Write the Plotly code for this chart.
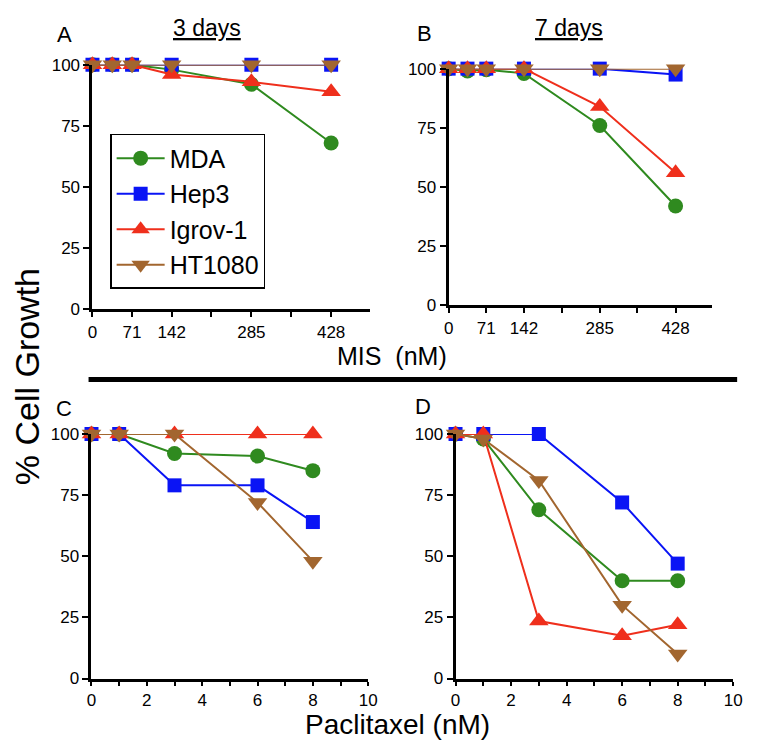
import plotly.graph_objects as go

# The page body keeps an 8px margin, so the figure is drawn 8px in from the
# window edge; size it so that the page fits the 762x755 window exactly.
OFF = 8
W, H = 762 - 2 * OFF, 755 - 2 * OFF

lines = ["MDA", "Hep3", "Igrov-1", "HT1080"]
colors = {"MDA": "#2f8a1f", "Hep3": "#0a14f5", "Igrov-1": "#ef2f1c", "HT1080": "#a2662f"}
symbols = {"MDA": "circle", "Hep3": "square", "Igrov-1": "triangle-up", "HT1080": "triangle-down"}
msize = {"MDA": 15, "Hep3": 14, "Igrov-1": 17, "HT1080": 17}

# MIS dose (nM)
mis_x = [0, 35.5, 71, 142, 285, 428]
mis_ticks = [0, 71, 142, 213, 285, 356, 428]
mis_ticktext = ["0", "71", "142", "", "285", "", "428"]

# Panel A: 3 days
a_vals = {
    "MDA": [100, 100, 100, 98, 92, 68],
    "Hep3": [100, 100, 100, 100, 100, 100],
    "Igrov-1": [100, 100, 100, 96, 93, 89],
    "HT1080": [100, 100, 100, 100, 100, 100],
}
# Panel B: 7 days
b_vals = {
    "MDA": [100, 99, 99.5, 98, 76, 42],
    "Hep3": [100, 100, 100, 100, 100, 97.5],
    "Igrov-1": [100, 100, 100, 100, 84, 56],
    "HT1080": [100, 100, 100, 100, 100, 100],
}

# Paclitaxel dose (nM)
pac_x = [0, 1, 3, 6, 8]
pac_ticks = list(range(0, 11))
pac_ticktext = [str(v) if v % 2 == 0 else "" for v in pac_ticks]

c_vals = {
    "MDA": [100, 100, 92, 91, 85],
    "Hep3": [100, 100, 79, 79, 64],
    "Igrov-1": [100, 100, 100, 100, 100],
    "HT1080": [100, 100, 100, 72, 48],
}
d_vals = {
    "MDA": [100, 98, 69, 40, 40],
    "Hep3": [100, 100, 100, 72, 47],
    "Igrov-1": [100, 100, 23.5, 17.5, 22],
    "HT1080": [100, 98, 81, 30, 10],
}

y_ticks = [0, 25, 50, 75, 100]

FONT = "Liberation Sans, Arial, Helvetica, sans-serif"

def fx(px):
    return (px - OFF) / W

def fy(py):
    return 1 - (py - OFF) / H

def dom_x(a, b):
    return [fx(a), fx(b)]

def dom_y(top, bottom):
    return [fy(bottom), fy(top)]

panels = [
    ("x", "y", mis_x, a_vals, dom_x(89, 372), dom_y(57, 308), [0, 498], mis_ticks, mis_ticktext, True),
    ("x2", "y2", mis_x, b_vals, dom_x(452, 720), dom_y(61, 304), [0, 496], mis_ticks, mis_ticktext, False),
    ("x3", "y3", pac_x, c_vals, dom_x(88, 370), dom_y(436, 687), [0, 10], pac_ticks, pac_ticktext, False),
    ("x4", "y4", pac_x, d_vals, dom_x(459, 742), dom_y(436, 687), [0, 10], pac_ticks, pac_ticktext, False),
]

fig = go.Figure()
layout = {}
for i, (xa, ya, xs, vals, xd, yd, xr, tv, tt, show) in enumerate(panels):
    for name in lines:
        fig.add_trace(go.Scatter(
            x=xs, y=vals[name], xaxis=xa, yaxis=ya, name=name,
            mode="lines+markers", showlegend=show, cliponaxis=False,
            line=dict(color=colors[name], width=2),
            marker=dict(symbol=symbols[name], size=msize[name], color=colors[name],
                        line=dict(width=0)),
        ))
    suffix = "" if i == 0 else str(i + 1)
    mis_axis = i < 2
    layout["xaxis" + suffix] = dict(
        domain=xd, range=xr, anchor=ya, tickvals=tv, ticktext=tt,
        showline=True, linecolor="black", linewidth=3, ticks="outside",
        ticklen=5 if mis_axis else 4, tickwidth=2, tickcolor="black",
        showgrid=False, zeroline=False,
        tickfont=dict(family=FONT, size=17, color="black"),
    )
    layout["yaxis" + suffix] = dict(
        domain=yd, range=[0, 100], anchor=xa, tickvals=y_ticks,
        showline=True, linecolor="black", linewidth=3, ticks="outside",
        ticklen=6, tickwidth=2, tickcolor="black", showgrid=False, zeroline=False,
        tickfont=dict(family=FONT, size=17, color="black"),
    )

def ann(text, x, y, size, angle=0):
    return dict(text=text, x=fx(x), y=fy(y), xref="paper", yref="paper",
                showarrow=False, xanchor="center", yanchor="middle", textangle=angle,
                font=dict(family=FONT, size=size, color="black"))

annotations = [
    ann("A", 60, 26, 22),
    ann("<u>3 days</u>", 206, 19, 23),
    ann("B", 427, 25, 22),
    ann("<u>7 days</u>", 575, 19, 23),
    ann("C", 60, 410, 22),
    ann("D", 426, 408, 22),
    ann("MIS\u00a0\u00a0(nM)", 394, 356, 25),
    ann("Paclitaxel (nM)", 400, 734, 28),
    ann("% Cell Growth", 22, 377, 34, angle=-90),
]

fig.update_layout(
    width=W, height=H, margin=dict(l=0, r=0, t=0, b=0),
    paper_bgcolor="white", plot_bgcolor="white",
    font=dict(family=FONT, color="black"),
    annotations=annotations,
    shapes=[dict(type="line", xref="paper", yref="paper",
                 x0=fx(85), x1=fx(746), y0=fy(380), y1=fy(380),
                 line=dict(color="black", width=5))],
    legend=dict(x=fx(107), y=fy(128), xanchor="left", yanchor="top",
                bordercolor="black", borderwidth=1.5, bgcolor="white",
                font=dict(family=FONT, size=25, color="black"),
                itemwidth=48, tracegroupgap=0),
    **layout,
)

fig.write_html("out.html")
